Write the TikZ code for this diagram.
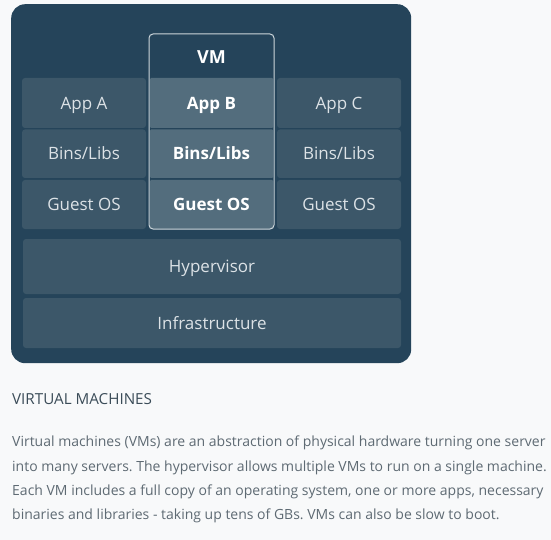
\documentclass[tikz,border=0pt]{standalone}
\usepackage{fontspec}
\setmainfont{Open Sans}
\frenchspacing
\definecolor{pagebg}{HTML}{F8F9FA}
\definecolor{outerbg}{HTML}{25445A}
\definecolor{cellbg}{HTML}{3C5769}
\definecolor{vmcell}{HTML}{536D7D}
\definecolor{vmborder}{HTML}{CDD6DB}
\definecolor{celltext}{HTML}{DCE2E6}
\definecolor{headtext}{HTML}{3B4C58}
\definecolor{bodytext}{HTML}{5E6A73}
\tikzset{
  cell/.style={fill=cellbg, rounded corners=3pt, inner sep=0pt, text=celltext,
    font=\fontsize{17}{20}\selectfont, text height=12.1pt, text depth=0pt},
  vmc/.style={cell, fill=vmcell, text=white, font=\fontsize{17}{20}\selectfont\bfseries},
  bodyline/.style={anchor=base west, inner sep=0pt, text=bodytext, font=\fontsize{14}{16}\selectfont}
}
\begin{document}
\begin{tikzpicture}[x=1pt,y=-1pt]
\fill[pagebg] (0,0) rectangle (551,540);
\useasboundingbox (0,0) rectangle (551,540);
\node[fill=outerbg, rounded corners=14pt, minimum width=400pt, minimum height=359pt, anchor=north west, inner sep=0pt] (frame) at (11,4) {};
% left column
\node[cell, minimum width=124pt, minimum height=50pt] (appA) at (84,103) {App A};
\node[cell, minimum width=124pt, minimum height=48.5pt] (binsA) at (84,153.75) {Bins/Libs};
\node[cell, minimum width=124pt, minimum height=49pt] (osA) at (84,204.5) {Guest OS};
% right column
\node[cell, minimum width=124pt, minimum height=50pt] (appC) at (339,103) {App C};
\node[cell, minimum width=124pt, minimum height=48.5pt] (binsC) at (339,153.75) {Bins/Libs};
\node[cell, minimum width=124pt, minimum height=49pt] (osC) at (339,204.5) {Guest OS};
% middle column (VM)
\node[vmc, rounded corners=1pt, minimum width=123pt, minimum height=50pt] (appB) at (211.5,103) {App B};
\node[vmc, rounded corners=1pt, minimum width=123pt, minimum height=48.5pt] (binsB) at (211.5,153.75) {Bins/Libs};
\node[vmc, rounded corners=1pt, minimum width=123pt, minimum height=49pt] (osB) at (211.5,204.5) {Guest OS};
\node[draw=vmborder, line width=1pt, rounded corners=4pt, minimum width=125pt, minimum height=195pt, inner sep=0pt] (vm) at (211.5,131.5) {};
\node[inner sep=0pt, text=white, font=\fontsize{18}{20}\selectfont\bfseries, text height=12.9pt, text depth=0pt] (vmlabel) at (211.5,57) {VM};
% lower layers
\node[cell, minimum width=378pt, minimum height=55pt] (hyper) at (212,266.5) {Hypervisor};
\node[cell, minimum width=378pt, minimum height=50pt] (infra) at (212,323) {Infrastructure};
% text
\node[anchor=base west, inner sep=0pt, text=headtext, font=\fontsize{15.2}{18}\selectfont] (head) at (12,404) {VIRTUAL MACHINES};
\node[bodyline] (l1) at (12,446.7) {Virtual machines (VMs) are an abstraction of physical hardware turning one server};
\node[bodyline] (l2) at (12,471) {into many servers. The hypervisor allows multiple VMs to run on a single machine.};
\node[bodyline] (l3) at (12,495.3) {Each VM includes a full copy of an operating system, one or more apps, necessary};
\node[bodyline] (l4) at (12,519.5) {binaries and libraries - taking up tens of GBs. VMs can also be slow to boot.};
\end{tikzpicture}
\end{document}
